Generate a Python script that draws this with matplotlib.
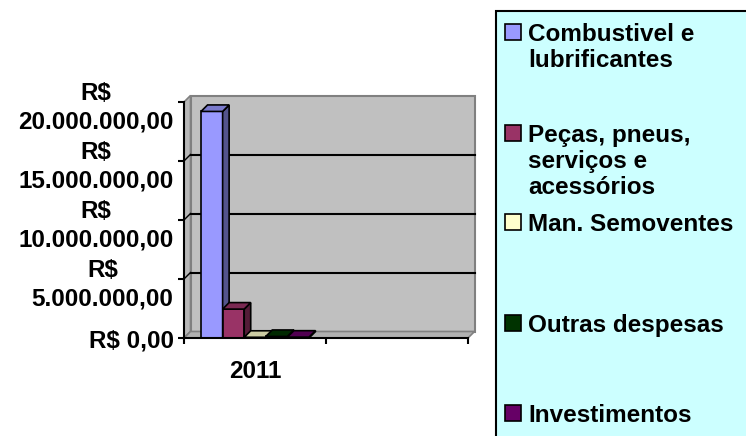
import matplotlib
matplotlib.use('Agg')
import matplotlib.pyplot as plt
from matplotlib.colors import to_rgb
from matplotlib.patches import Polygon, Rectangle

categories = ['2011', '']
series = ['Combustivel e\nlubrificantes', 'Peças, pneus,\nserviços e\nacessórios',
          'Man. Semoventes', 'Outras despesas', 'Investimentos']
values_2011 = [19_200_000, 2_450_000, 60_000, 130_000, 70_000]
colors = ['#9999FF', '#993366', '#FFFFCC', '#003300', '#660066']
y_ticks = [0, 5_000_000, 10_000_000, 15_000_000, 20_000_000]
y_tick_labels = ['R$ 0,00', 'R$\n5.000.000,00', 'R$\n10.000.000,00',
                 'R$\n15.000.000,00', 'R$\n20.000.000,00']

plt.rcParams['font.family'] = ['Liberation Sans', 'DejaVu Sans']
plt.rcParams['font.weight'] = 'bold'
plt.rcParams['font.size'] = 17.5

W, H = 746, 436
fig = plt.figure(figsize=(W / 100, H / 100), dpi=100)
ax = fig.add_axes([184 / W, (H - 338) / H, (468 - 184) / W, (338 - 102) / H])
ax.set_xlim(0, len(categories))
ax.set_ylim(0, y_ticks[-1])
ax.patch.set_visible(False)

# depth of the fake 3d box, in data units (about 6.5 px each way)
dx = 6.5 * len(categories) / 284
dy = 6.5 * y_ticks[-1] / 236


def shade(c, f):
    r, g, b = to_rgb(c)
    return (r * f, g * f, b * f)


# walls and floor
top = y_ticks[-1]
n = len(categories)
ax.add_patch(Polygon([(dx, dy), (n + dx, dy), (n + dx, top + dy), (dx, top + dy)],
                     fc='#C0C0C0', ec='#808080', lw=1.5, zorder=0, clip_on=False))
ax.add_patch(Polygon([(0, 0), (dx, dy), (dx, top + dy), (0, top)],
                     fc='#B8B8B8', ec='#808080', lw=1.2, zorder=0, clip_on=False))
ax.add_patch(Polygon([(0, 0), (n, 0), (n + dx, dy), (dx, dy)],
                     fc='#B0B0B0', ec='#808080', lw=1.2, zorder=0, clip_on=False))
for yt in y_ticks[1:-1]:
    ax.plot([dx, n + dx], [yt + dy, yt + dy], color='black', lw=1.5, zorder=1, clip_on=False)
    ax.plot([0, dx], [yt, yt + dy], color='black', lw=1.0, zorder=1, clip_on=False)

# bars
w = 0.152
start = 0.5 - len(series) * w / 2
for i, (v, c) in enumerate(zip(values_2011, colors)):
    x0 = start + i * w
    z = 3 + i
    ax.bar(x0, v, width=w, align='edge', color=c, edgecolor='black', lw=1.2, zorder=z)
    ax.add_patch(Polygon([(x0 + w, 0), (x0 + w + dx, dy), (x0 + w + dx, v + dy), (x0 + w, v)],
                         fc=shade(c, 0.55), ec='black', lw=1.2, zorder=z, clip_on=False))
    ax.add_patch(Polygon([(x0, v), (x0 + w, v), (x0 + w + dx, v + dy), (x0 + dx, v + dy)],
                         fc=shade(c, 0.8), ec='black', lw=1.2, zorder=z, clip_on=False))

# axes
for s in ['top', 'right']:
    ax.spines[s].set_visible(False)
for s in ['left', 'bottom']:
    ax.spines[s].set_linewidth(1.5)
    ax.spines[s].set_zorder(10)

ax.set_yticks(y_ticks, y_tick_labels)
ax.tick_params(axis='y', direction='out', length=4.5, width=1.5, pad=3)
for lab in ax.get_yticklabels():
    lab.set_multialignment('center')
    lab.set_linespacing(1.32)

ax.set_xticks([0.5 + i for i in range(n)], categories)
ax.set_xticks(range(n + 1), minor=True)
ax.tick_params(axis='x', which='major', length=0, pad=16)
ax.tick_params(axis='x', which='minor', direction='out', length=4, width=1.5)


# legend box, drawn by hand like the Excel one
def fx(px):
    return px / W


def fy(py):
    return 1 - py / H


fig.add_artist(Rectangle((fx(496), -0.01), 1.0, fy(11) + 0.01, transform=fig.transFigure,
                         fc='#CCFFFF', ec='black', lw=1.5))
legend_rows = [32, 133, 222, 323, 413]
for name, c, ypx in zip(series, colors, legend_rows):
    fig.add_artist(Rectangle((fx(505), fy(ypx + 8)), 16 / W, 16 / H, transform=fig.transFigure,
                             fc=c, ec='black', lw=1.2))
    fig.text(fx(528), fy(ypx - 9), name, va='top', ha='left', linespacing=1.18)

fig.savefig('out.png', dpi=100)
